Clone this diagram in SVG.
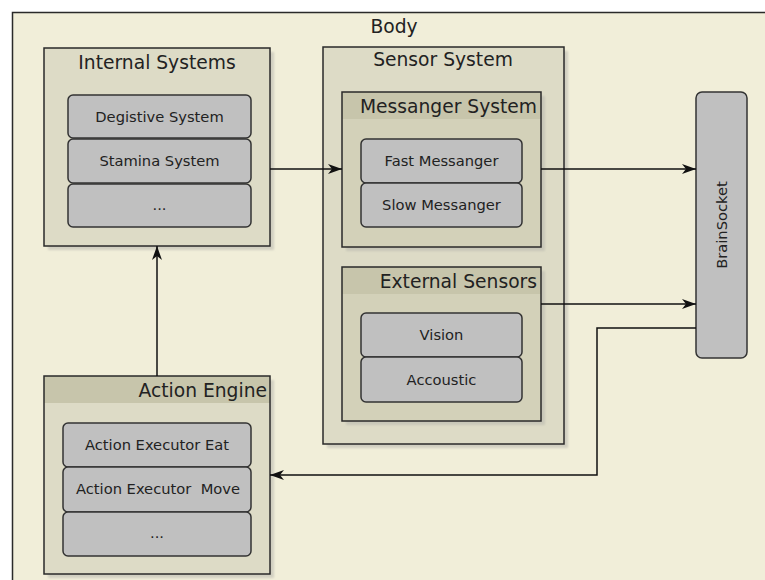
<svg xmlns="http://www.w3.org/2000/svg" width="765" height="580" viewBox="0 0 765 580">
  <defs>
    <marker id="arrow" viewBox="0 0 14 10" refX="14" refY="5" markerWidth="14" markerHeight="10" markerUnits="userSpaceOnUse" orient="auto">
      <path d="M0,0 L14,5 L0,10 L4,5 z" fill="#111"/>
    </marker>
    <filter id="soft" x="-5%" y="-5%" width="115%" height="115%">
      <feGaussianBlur stdDeviation="1.2"/>
    </filter>
  </defs>
  <style>
    text { font-family: "DejaVu Sans", Verdana, sans-serif; fill: #222; }
    .title { font-size: 18.7px; }
    .item-label { font-size: 14.7px; text-anchor: middle; }
    .frame { stroke: #2a2a2a; stroke-width: 1.5; }
    .panel { fill: #dddbc6; }
    .subpanel { fill: #d3d1b9; }
    .header { fill: #c7c5ab; }
    .item { fill: #c0c0c0; stroke: #333; stroke-width: 1.5; }
    .shadow { fill: #b8b7ae; opacity: 0.55; filter: url(#soft); }
    .wire { fill: none; stroke: #111; stroke-width: 1.5; }
  </style>

  <rect width="765" height="580" fill="#ffffff"/>

  <!-- Body container (runs past the canvas edges) -->
  <g id="body">
    <rect x="12.5" y="12.5" width="800" height="620" fill="#f1eed9" class="frame"/>
    <text x="394" y="33" class="title" text-anchor="middle">Body</text>
  </g>

  <!-- Internal Systems -->
  <g id="internal-systems">
    <rect x="48" y="52" width="226" height="198" class="shadow"/>
    <rect x="44" y="48" width="226" height="198" class="panel frame"/>
    <text x="157" y="69" class="title" text-anchor="middle">Internal Systems</text>
    <rect x="68" y="95" width="183" height="43" rx="5" class="item"/>
    <text x="159.5" y="122" class="item-label">Degistive System</text>
    <rect x="68" y="139" width="183" height="44" rx="5" class="item"/>
    <text x="159.5" y="166" class="item-label">Stamina System</text>
    <rect x="68" y="184" width="183" height="43" rx="5" class="item"/>
    <text x="159.5" y="210" class="item-label">...</text>
  </g>

  <!-- Sensor System -->
  <g id="sensor-system">
    <rect x="327" y="51" width="241" height="397" class="shadow"/>
    <rect x="323" y="47" width="241" height="397" class="panel frame"/>
    <text x="443" y="66" class="title" text-anchor="middle">Sensor System</text>

    <g id="messanger-system">
      <rect x="346" y="96" width="199" height="155" class="shadow"/>
      <rect x="342" y="92" width="199" height="155" class="subpanel"/>
      <rect x="342" y="92" width="199" height="27" class="header"/>
      <rect x="342" y="92" width="199" height="155" fill="none" class="frame"/>
      <text x="537" y="113" class="title" text-anchor="end">Messanger System</text>
      <rect x="361" y="139" width="161" height="44" rx="5" class="item"/>
      <text x="441.5" y="166" class="item-label">Fast Messanger</text>
      <rect x="361" y="183" width="161" height="44" rx="5" class="item"/>
      <text x="441.5" y="210" class="item-label">Slow Messanger</text>
    </g>

    <g id="external-sensors">
      <rect x="346" y="271" width="199" height="154" class="shadow"/>
      <rect x="342" y="267" width="199" height="154" class="subpanel"/>
      <rect x="342" y="267" width="199" height="27" class="header"/>
      <rect x="342" y="267" width="199" height="154" fill="none" class="frame"/>
      <text x="537" y="288" class="title" text-anchor="end">External Sensors</text>
      <rect x="361" y="313" width="161" height="44" rx="5" class="item"/>
      <text x="441.5" y="340" class="item-label">Vision</text>
      <rect x="361" y="357" width="161" height="45" rx="5" class="item"/>
      <text x="441.5" y="385" class="item-label">Accoustic</text>
    </g>
  </g>

  <!-- BrainSocket -->
  <g id="brain-socket">
    <rect x="696" y="92" width="51" height="266" rx="6" class="item"/>
    <text x="727" y="225" class="item-label" transform="rotate(-90 727 225)">BrainSocket</text>
  </g>

  <!-- Action Engine -->
  <g id="action-engine">
    <rect x="48" y="380" width="226" height="198" class="shadow"/>
    <rect x="44" y="376" width="226" height="198" class="panel"/>
    <rect x="44" y="376" width="226" height="27" class="header"/>
    <rect x="44" y="376" width="226" height="198" fill="none" class="frame"/>
    <text x="267" y="397" class="title" text-anchor="end">Action Engine</text>
    <rect x="63" y="423" width="188" height="44" rx="5" class="item"/>
    <text x="157" y="450" class="item-label">Action Executor Eat</text>
    <rect x="63" y="467" width="188" height="45" rx="5" class="item"/>
    <text x="158" y="494" class="item-label" xml:space="preserve">Action Executor  Move</text>
    <rect x="63" y="512" width="188" height="44" rx="5" class="item"/>
    <text x="157" y="538" class="item-label">...</text>
  </g>

  <!-- Connectors -->
  <g id="connectors">
    <path d="M270,169 H342" class="wire" marker-end="url(#arrow)"/>
    <path d="M541,169 H696" class="wire" marker-end="url(#arrow)"/>
    <path d="M541,304 H696" class="wire" marker-end="url(#arrow)"/>
    <path d="M696,328 H597 V475 H270" class="wire" marker-end="url(#arrow)"/>
    <path d="M157,376 V246" class="wire" marker-end="url(#arrow)"/>
  </g>
</svg>
